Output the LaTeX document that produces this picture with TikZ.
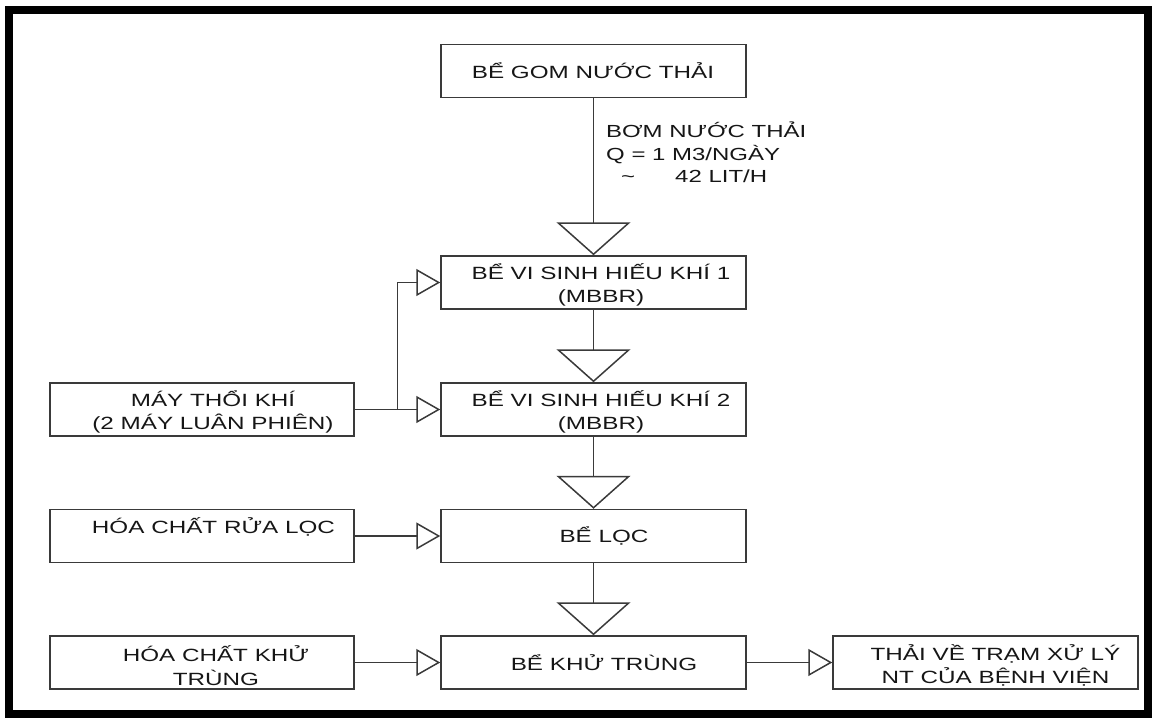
\documentclass[tikz,border=0pt]{standalone}
\usepackage{fontspec}
\setmainfont[FakeStretch=1.37]{Liberation Sans}
\usetikzlibrary{arrows.meta,calc}
\definecolor{linec}{HTML}{3A3A3A}
\definecolor{txtc}{HTML}{161616}
\newcommand{\mainf}{\fontsize{17.7}{23.5}\selectfont}
\newcommand{\lblf}{\fontsize{17.5}{22.5}\selectfont}
\tikzset{
  box/.style={draw=linec, line width=1.5pt, minimum width=305pt, minimum height=53pt, inner sep=0pt},
  txt/.style={text=txtc, align=center, inner sep=0pt, font=\mainf},
  lbl/.style={text=txtc, align=left, inner sep=0pt, font=\lblf},
  vflow/.style={draw=linec, line width=1.5pt, -{Triangle[open,length=33pt,width=74pt]}},
  hflow/.style={draw=linec, line width=1.5pt, -{Triangle[open,length=24pt,width=27pt]}},
  frame/.style={draw=black, line width=8pt},
}
\begin{document}
\begin{tikzpicture}[x=1pt,y=-1pt]
\useasboundingbox (0,0) rectangle (1154,718);
\draw[frame] (8.5,10) rectangle (1148,714);
% main column boxes
\node[box] (gom) at (593.5,71) {};
\node[box] (b1) at (593.5,282.5) {};
\node[box] (b2) at (593.5,409.5) {};
\node[box] (loc) at (593.5,536) {};
\node[box] (khu) at (593.5,662.5) {};
% side boxes
\node[box, minimum width=304pt] (blow) at (202,409.5) {};
\node[box, minimum width=304pt] (hcl) at (202,536) {};
\node[box, minimum width=304pt] (hck) at (202,662.5) {};
\node[box] (out) at (985.5,662.5) {};
% texts
\node[txt] (tgom) at (593,71) {BỂ GOM NƯỚC THẢI};
\node[txt] (tb1) at (601,285) {BỂ VI SINH HIẾU KHÍ 1\\(MBBR)};
\node[txt] (tb2) at (601,412) {BỂ VI SINH HIẾU KHÍ 2\\(MBBR)};
\node[txt] (tloc) at (604,536) {BỂ LỌC};
\node[txt] (tkhu) at (604,663) {BỂ KHỬ TRÙNG};
\node[txt] (tblow) at (213,412) {MÁY THỔI KHÍ\\(2 MÁY LUÂN PHIÊN)};
\node[txt] (thcl) at (213.5,527) {HÓA CHẤT RỬA LỌC};
\node[txt] (thck) at (216,665.5) {HÓA CHẤT KHỬ\\TRÙNG};
\node[txt] (tout) at (995.5,665.5) {THẢI VỀ TRẠM XỬ LÝ\\NT CỦA BỆNH VIỆN};
\node[lbl, anchor=base west] (pump) at (606,182.5) {BƠM NƯỚC THẢI\\Q = 1 M3/NGÀY\\\hspace*{15pt}\textasciitilde\hspace{40pt}42 LIT/H};
% connectors
\draw[vflow] (gom) -- (b1);
\draw[vflow] (b1) -- (b2);
\draw[vflow] (b2) -- (loc);
\draw[vflow] (loc) -- (khu);
\draw[hflow] (blow) -- (b2);
\coordinate (j) at ($(blow.east)!0.5!(b2.west)$);
\draw[hflow] (j) |- (b1.west);
\draw[hflow] (hcl) -- (loc);
\draw[hflow] (hck) -- (khu);
\draw[hflow] (khu) -- (out);
\end{tikzpicture}
\end{document}
